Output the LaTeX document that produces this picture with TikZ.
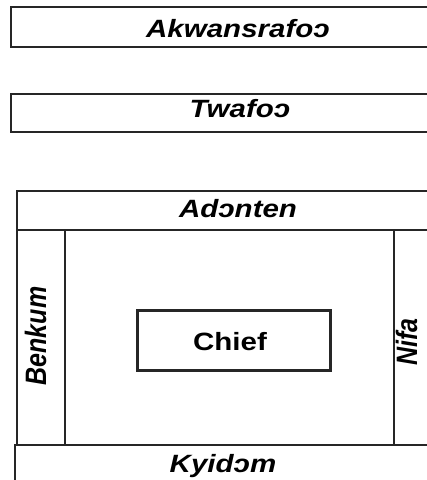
\documentclass[tikz,border=0pt]{standalone}
\usepackage{fontspec}
\setmainfont{Liberation Sans}
\newcommand\lbl{\fontsize{25}{30}\selectfont\bfseries\itshape}
\newcommand\hs[1]{\scalebox{1.18}[1]{#1}}
\newcommand\vs[1]{\scalebox{1}[1.18]{#1}}
\tikzset{
  band/.style={draw=black!85, line width=1.8pt, rectangle, inner sep=0pt, anchor=north west},
  lab/.style={font=\lbl, inner sep=0pt, anchor=base, text=black},
  rlab/.style={lab, rotate=90},
}
\begin{document}
\begin{tikzpicture}[x=1pt,y=-1pt]
\useasboundingbox (0,0) rectangle (427,480);
\clip (0,0) rectangle (427,480);
% top boxes
\node[band, minimum width=440pt, minimum height=40pt] (akw) at (10,6) {};
\node[lab] (akwt) at (238,37) {\hs{Akwansrafoɔ}};
\node[band, minimum width=440pt, minimum height=38pt] (twa) at (10,93) {};
\node[lab] (twat) at (240,117) {\hs{Twafoɔ}};
% layout
\node[band, minimum width=440pt, minimum height=39pt] (adn) at (16,190) {};
\node[lab] (adnt) at (238,217) {\hs{Adɔnten}};
\node[band, minimum width=48pt, minimum height=215pt] (ben) at (16,229) {};
\node[rlab] (bent) at (46,336) {\vs{Benkum}};
\node[band, minimum width=60pt, minimum height=215pt] (nif) at (393,229) {};
\node[rlab] (nift) at (417,342) {\vs{Nifa}};
\node[band, minimum width=440pt, minimum height=60pt] (kyi) at (14,444) {};
\node[lab] (kyit) at (223,472) {\hs{Kyidɔm}};
\node[band, line width=3.2pt, minimum width=193pt, minimum height=60pt] (chief) at (136,309) {};
\node[lab, font=\fontsize{25}{30}\selectfont\bfseries] (chieft) at (230,350) {\hs{Chief}};
\end{tikzpicture}
\end{document}
